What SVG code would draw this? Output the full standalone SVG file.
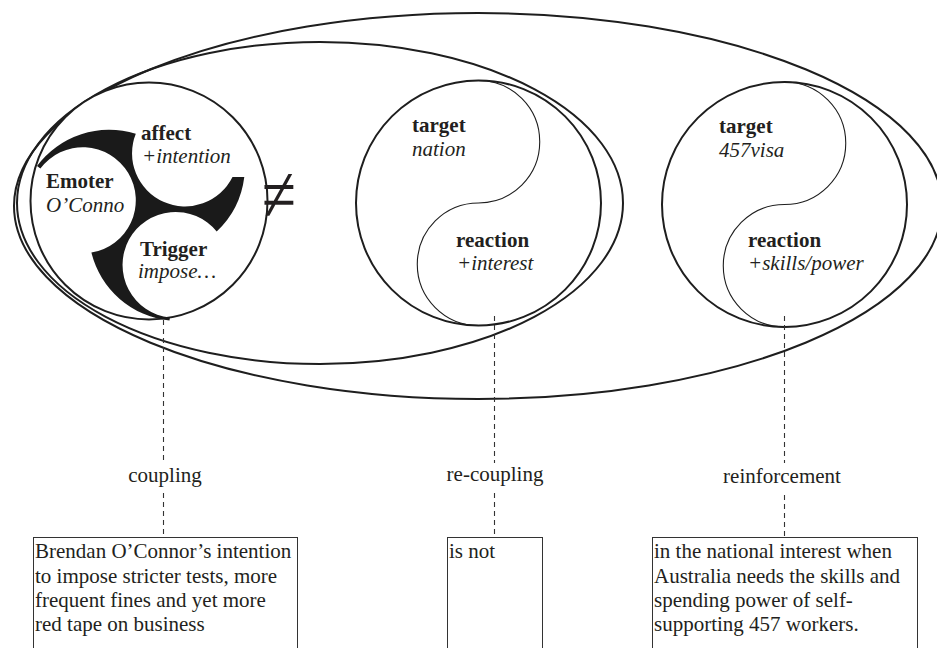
<svg xmlns="http://www.w3.org/2000/svg" width="937" height="648" viewBox="0 0 937 648">
  <style>
    .line { fill: none; stroke: #1e1e1e; stroke-width: 2; }
    .thin { fill: none; stroke: #1e1e1e; stroke-width: 1.1; }
    .dash { fill: none; stroke: #333; stroke-width: 1.1; stroke-dasharray: 5 4; }
    .box { fill: #fff; stroke: #333; stroke-width: 1; }
    text { font-family: "Liberation Serif", "Times New Roman", serif; font-size: 21px; fill: #231f20; }
    .b { font-weight: bold; }
    .i { font-style: italic; }
  </style>

  <!-- enclosing ellipses -->
  <g id="groupings">
    <ellipse class="line" cx="478" cy="206" rx="464" ry="193"/>
    <ellipse class="line" cx="320" cy="203" rx="303" ry="161"/>
  </g>

  <!-- emoter / affect / trigger triskelion -->
  <g id="node-emotion">
    <circle cx="149" cy="201" r="118.5" fill="#fff" stroke="#1e1e1e" stroke-width="2"/>
    <path fill="#1a1a1a" d="M37,166 A90,90 0 0 1 135.8,133.8 A53,53 0 0 0 232.5,177 L244.3,177 A90,90 0 0 1 216.7,231.5 A53,53 0 1 0 169.9,317.6 L169.5,320.5 A90,90 0 0 1 91.4,252.6 A53,53 0 1 0 40.4,168.5 Z"/>
    <text class="b" x="141" y="139.5">affect</text>
    <text class="i" x="142" y="163">+intention</text>
    <text class="b" x="46" y="188">Emoter</text>
    <text class="i" x="46" y="211.5">O’Conno</text>
    <text class="b" x="140" y="255.5">Trigger</text>
    <text class="i" x="138" y="278">impose…</text>
  </g>

  <text id="not-equal" transform="translate(262,221) scale(1,1.28)" x="0" y="0" style="font-size:62px">≠</text>

  <!-- target / reaction: nation -->
  <g id="node-nation">
    <circle cx="478.5" cy="203" r="122.5" fill="none" stroke="#1e1e1e" stroke-width="2"/>
    <path class="thin" d="M478.5,80.5 A61.25,61.25 0 0 1 478.5,203 A61.25,61.25 0 0 0 478.5,325.5"/>
    <text class="b" x="412" y="132">target</text>
    <text class="i" x="412" y="156">nation</text>
    <text class="b" x="456" y="247">reaction</text>
    <text class="i" x="457" y="270">+interest</text>
  </g>

  <!-- target / reaction: 457 visa -->
  <g id="node-visa">
    <circle cx="784.5" cy="204.5" r="122.5" fill="none" stroke="#1e1e1e" stroke-width="2"/>
    <path class="thin" d="M784.5,82 A61.25,61.25 0 0 1 784.5,204.5 A61.25,61.25 0 0 0 784.5,327"/>
    <text class="b" x="719" y="133">target</text>
    <text class="i" x="719" y="157">457visa</text>
    <text class="b" x="748" y="247">reaction</text>
    <text class="i" x="748" y="270">+skills/power</text>
  </g>

  <!-- dashed connectors to the text boxes -->
  <g id="connectors">
    <path class="dash" d="M163.5,320 V463 M163.5,493 V537"/>
    <path class="dash" d="M494.5,316 V463 M494.5,493 V537"/>
    <path class="dash" d="M784.5,316 V463 M784.5,495 V537"/>
  </g>

  <g id="labels" text-anchor="middle">
    <text x="165" y="482">coupling</text>
    <text x="495" y="481">re-coupling</text>
    <text x="782" y="483">reinforcement</text>
  </g>

  <g id="box-coupling">
    <rect class="box" x="33.5" y="537.5" width="264" height="130"/>
    <text x="35" y="558">Brendan O’Connor’s intention</text>
    <text x="35" y="582.5">to impose stricter tests, more</text>
    <text x="35" y="607">frequent fines and yet more</text>
    <text x="35" y="631">red tape on business</text>
  </g>

  <g id="box-recoupling">
    <rect class="box" x="447.5" y="537.5" width="95" height="130"/>
    <text x="449" y="558">is not</text>
  </g>

  <g id="box-reinforcement">
    <rect class="box" x="652.5" y="537.5" width="265" height="130"/>
    <text x="654" y="558">in the national interest when</text>
    <text x="654" y="582.5">Australia needs the skills and</text>
    <text x="654" y="607">spending power of self-</text>
    <text x="654" y="631">supporting 457 workers.</text>
  </g>
</svg>
